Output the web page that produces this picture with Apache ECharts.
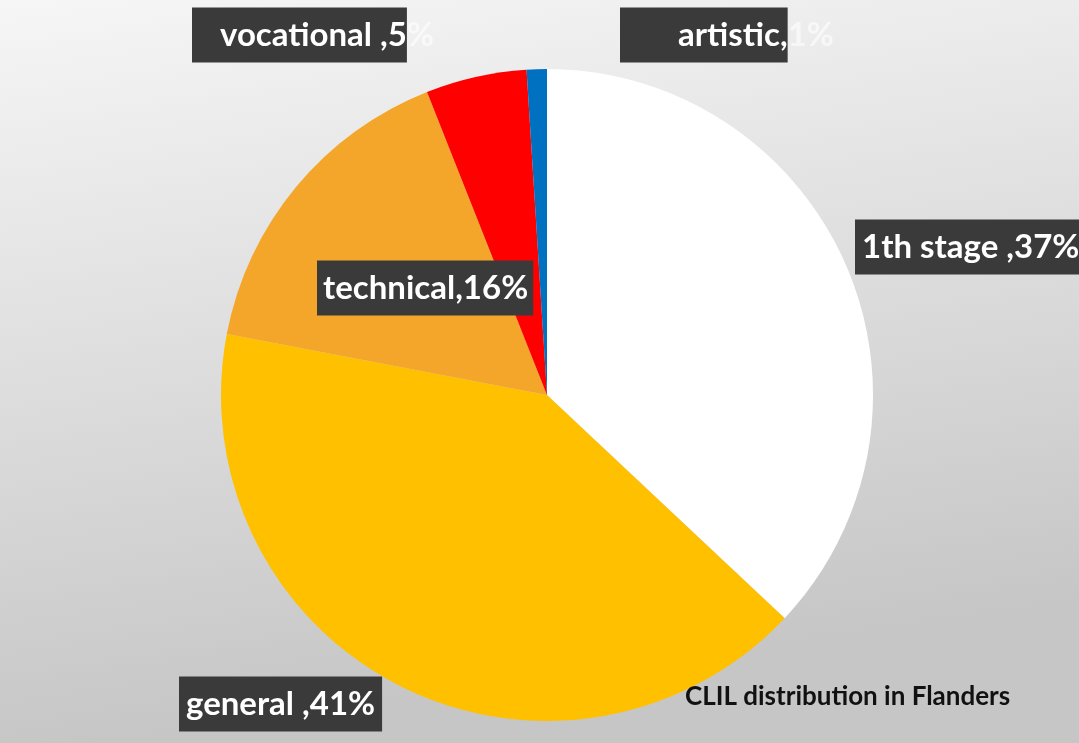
<!DOCTYPE html>
<html>
<head>
<meta charset="utf-8">
<script src="https://cdn.jsdelivr.net/npm/echarts@6/dist/echarts.min.js"></script>
<style>
html,body{margin:0;padding:0;width:1079px;height:743px;overflow:hidden;}
#c{width:1079px;height:743px;}
</style>
</head>
<body>
<div id="c"></div>
<script>
// Data
const categories = ['1th stage', 'general', 'technical', 'vocational', 'artistic'];
const values = [37, 41, 16, 5, 1];
const boxText = ['1th stage ,37%', 'general ,41%', 'technical,16%', 'vocational ,5', 'artistic,'];
const outText = ['', '', '', '%', '1%'];
const titleText = 'CLIL distribution in Flanders';

// Styles / layout
const colors = ['#FFFFFF', '#FFC000', '#F4A62A', '#FF0000', '#0070C0'];
const labelPos = [
  {x: 855, y: 247},
  {x: 179, y: 704},
  {x: 317, y: 288},
  {x: 192, y: 35},
  {x: 620, y: 35}
];
const boxPad = [
  [11, 6, 11, 7],
  [11, 7, 11, 7],
  [11, 5, 11, 6],
  [11, 0, 11, 28],
  [11, 0, 11, 58]
];
const FS = 33;

const chart = echarts.init(document.getElementById('c'), null, {renderer: 'canvas'});
const data = categories.map((n, i) => ({
  name: n,
  value: values[i],
  itemStyle: {color: colors[i]},
  label: {
    overflow: 'none',
    formatter: '{box|' + boxText[i] + '}' + (outText[i] ? '{out|' + outText[i] + '}' : ''),
    rich: {
      box: {
        backgroundColor: '#3A3A3A',
        color: '#FFFFFF',
        fontFamily: 'Lato',
        fontWeight: 'bold',
        fontSize: FS,
        padding: boxPad[i]
      },
      out: {
        color: '#FFFFFF',
        fontFamily: 'Lato',
        fontWeight: 'bold',
        fontSize: FS,
        opacity: 0.6
      }
    }
  }
}));

chart.setOption({
  backgroundColor: {
    type: 'linear', x: 0, y: 0, x2: 0.1, y2: 1,
    colorStops: [
      {offset: 0, color: '#F6F6F6'},
      {offset: 0.5, color: '#DEDEDE'},
      {offset: 1, color: '#C6C6C6'}
    ]
  },
  title: {
    text: titleText,
    left: 680,
    top: 679,
    textStyle: {fontFamily: 'Lato', fontWeight: 'bold', fontSize: 26, color: '#111111'}
  },
  series: [{
    type: 'pie',
    center: [547, 395],
    radius: [0, 326],
    startAngle: 90,
    clockwise: true,
    animation: false,
    silent: true,
    itemStyle: {borderWidth: 0},
    label: {show: true, position: 'outside', overflow: 'none'},
    labelLine: {show: false},
    labelLayout: function (p) {
      const pos = labelPos[p.dataIndex];
      return {x: pos.x, y: pos.y, align: 'left', verticalAlign: 'middle'};
    },
    data: data
  }]
});
</script>
</body>
</html>
